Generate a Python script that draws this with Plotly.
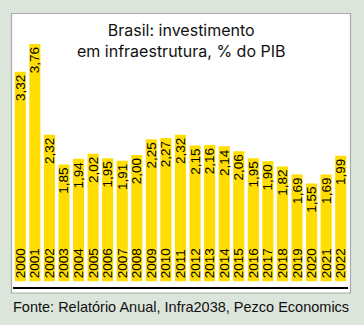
import plotly.graph_objects as go

years = ["2000", "2001", "2002", "2003", "2004", "2005", "2006", "2007", "2008", "2009", "2010", "2011",
         "2012", "2013", "2014", "2015", "2016", "2017", "2018", "2019", "2020", "2021", "2022"]
values = [3.32, 3.76, 2.32, 1.85, 1.94, 2.02, 1.95, 1.91, 2.00, 2.25, 2.27, 2.32,
          2.15, 2.16, 2.14, 2.06, 1.95, 1.90, 1.82, 1.69, 1.55, 1.69, 1.99]
value_labels = [f"{v:.2f}".replace(".", ",") for v in values]

title_text = "Brasil: investimento<br>em infraestrutura, % do PIB"
source_text = "Fonte: Relatório Anual, Infra2038, Pezco Economics"

W, H = 364, 325
ml, mr, mt, mb = 13, 16, 30, 38
labfont = "Liberation Sans, Arial, sans-serif"

fig = go.Figure()
fig.add_trace(go.Bar(
    x=years, y=values, marker=dict(color="#FFDD00", line=dict(width=0)),
    text=value_labels, textposition="inside", insidetextanchor="end", textangle=-90,
    textfont=dict(family=labfont, size=13.5, color="black"), cliponaxis=False,
))
fig.add_trace(go.Bar(
    x=years, y=values, marker=dict(color="rgba(0,0,0,0)", line=dict(width=0)),
    text=years, textposition="inside", insidetextanchor="start", textangle=-90,
    textfont=dict(family=labfont, size=13.5, color="black"),
))

ph = H - mt - mb
pw = W - ml - mr
px = lambda x: (x - ml) / pw
py = lambda y: (H - mb - y) / ph

fig.add_shape(type="rect", xref="paper", yref="paper",
              x0=px(11.5), x1=px(350.5), y0=py(293), y1=py(13.5),
              fillcolor="white", line=dict(color="#a9aca9", width=1.2), layer="below")

fig.add_annotation(text=title_text, xref="paper", yref="paper", x=px(181), y=py(18),
                   xanchor="center", yanchor="top", showarrow=False, align="center",
                   font=dict(family="Inter, Roboto, Arial, sans-serif", size=16, color="#111"))
fig.add_annotation(text=source_text, xref="paper", yref="paper", x=px(181), y=py(307),
                   xanchor="center", yanchor="middle", showarrow=False,
                   font=dict(family=labfont, size=14.5, color="#111"))

fig.update_layout(
    width=W, height=H, margin=dict(l=ml, r=mr, t=mt, b=mb),
    paper_bgcolor="#dce5dc", plot_bgcolor="white",
    barmode="overlay", bargap=0.24, showlegend=False,
    uniformtext=dict(minsize=13.5, mode="show"),
    xaxis=dict(showticklabels=False, ticks="", showgrid=False, zeroline=False,
               showline=True, linecolor="black", linewidth=2, fixedrange=True),
    yaxis=dict(range=[-0.09, 3.98], visible=False, showgrid=False, zeroline=False, fixedrange=True),
)

fig.write_html("out.html", config={"displayModeBar": False})
